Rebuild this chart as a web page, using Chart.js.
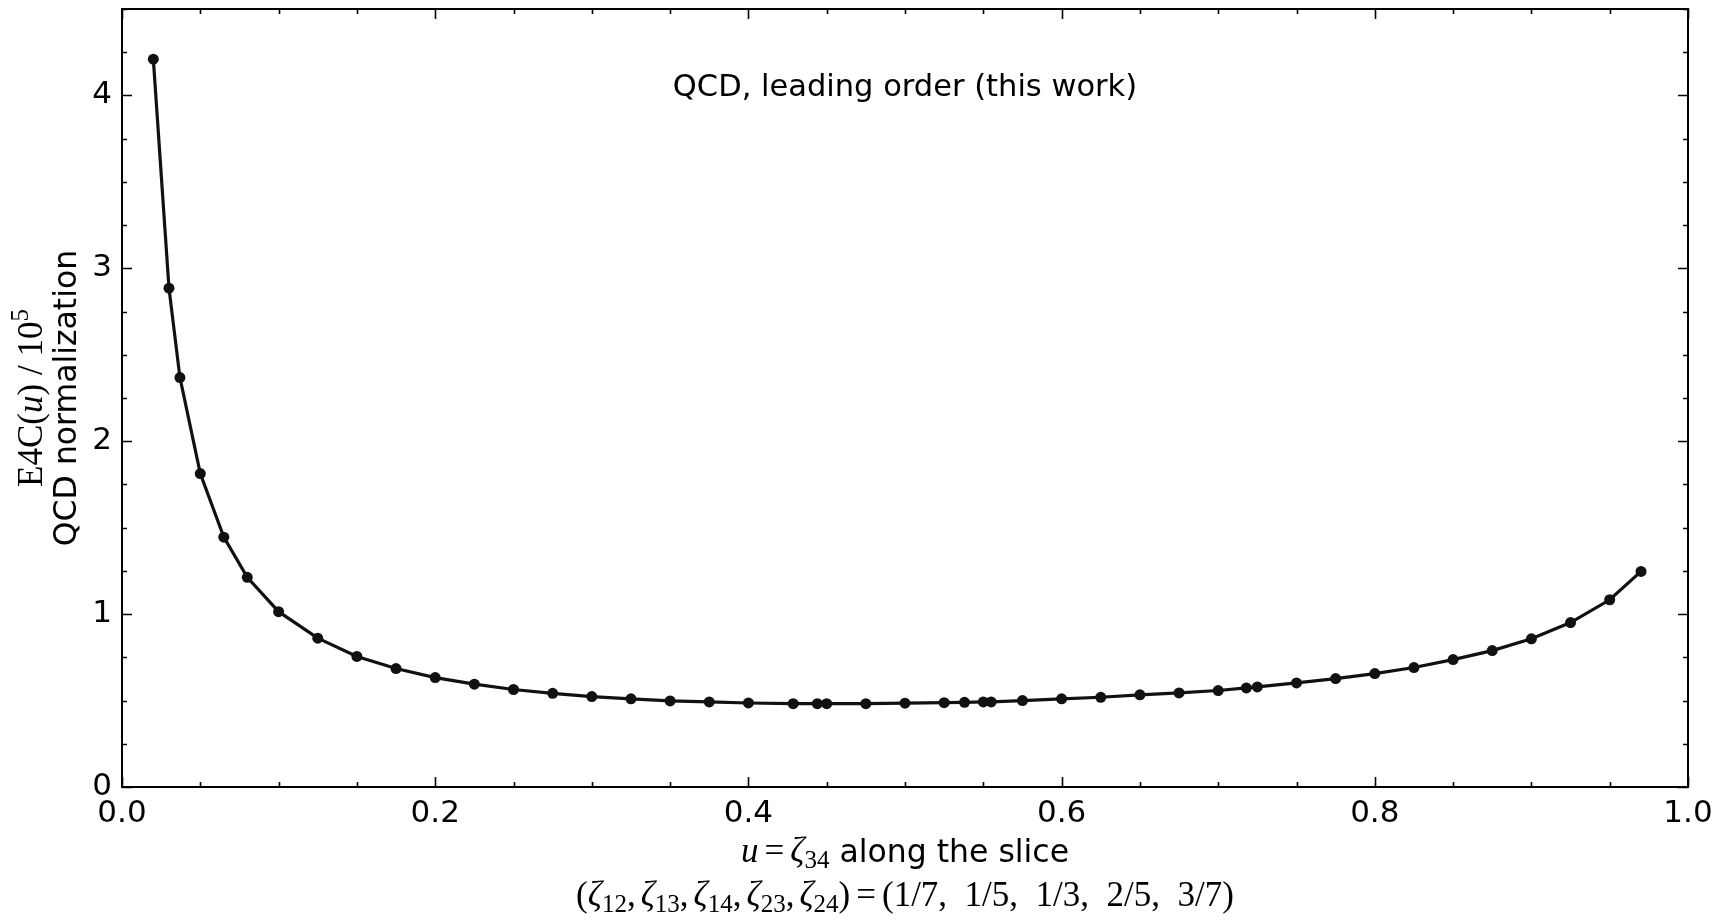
<!DOCTYPE html>
<html>
<head>
<meta charset="utf-8">
<title>E4C slice</title>
<script src="https://cdn.jsdelivr.net/npm/chart.js@4.4.1/dist/chart.umd.min.js"></script>
<style>
  html, body { margin: 0; padding: 0; background: #fff; }
  #wrap { width: 1720px; height: 920px; position: relative; }
</style>
</head>
<body>
<div id="wrap"><canvas id="chart"></canvas></div>
<script>
  // u = zeta_34 sample points along the slice, and E4C(u) / 10^5
  const uValues = [
    0.02, 0.03, 0.037, 0.05, 0.065, 0.08, 0.1,
    0.125, 0.15, 0.175, 0.2, 0.225, 0.25, 0.275, 0.3, 0.325, 0.35, 0.375, 0.4,
    0.4286, 0.444, 0.45, 0.475, 0.5, 0.525, 0.538, 0.55, 0.555, 0.575, 0.6,
    0.625, 0.65, 0.675, 0.7, 0.718, 0.725, 0.75,
    0.775, 0.8, 0.825, 0.85, 0.875, 0.9, 0.925, 0.95, 0.97,
  ];
  const e4cValues = [
    4.21, 2.885, 2.368, 1.813, 1.445, 1.213, 1.014,
    0.861, 0.755, 0.685, 0.633, 0.595, 0.564, 0.542, 0.523, 0.510, 0.498, 0.492, 0.486,
    0.482, 0.482, 0.482, 0.482, 0.485, 0.488, 0.490, 0.492, 0.492, 0.500, 0.510,
    0.519, 0.533, 0.544, 0.558, 0.573, 0.579, 0.602,
    0.627, 0.656, 0.691, 0.737, 0.789, 0.857, 0.951, 1.083, 1.247,
  ];

  // axis ticks
  const xMajorTicks = [0, 0.2, 0.4, 0.6, 0.8, 1.0];
  const xMinorStep = 0.05;
  const yMajorTicks = [0, 1, 2, 3, 4];
  const yMinorStep = 0.25;

  const titleText = 'QCD, leading order (this work)';
  const SANS = '"DejaVu Sans", sans-serif';
  const SERIF = '"Liberation Serif", "DejaVu Serif", serif';

  /**
   * Draw a run of text pieces (different fonts / sub- and superscripts) centred on x.
   * A piece with `sp` is just a horizontal gap of that many pixels.
   */
  function drawRich(ctx, parts, x, y) {
    let total = 0;
    parts.forEach((p) => {
      if (p.sp) {
        p.w = p.sp;
      } else {
        ctx.font = p.font;
        p.w = ctx.measureText(p.t).width;
      }
      total += p.w;
    });
    let cx = x - total / 2;
    ctx.textAlign = 'left';
    ctx.textBaseline = 'alphabetic';
    parts.forEach((p) => {
      if (!p.sp) {
        ctx.font = p.font;
        ctx.fillText(p.t, cx, y + (p.dy || 0));
      }
      cx += p.w;
    });
  }

  const mi = `italic 35px ${SERIF}`;
  const mr = `35px ${SERIF}`;
  const ms = `25px ${SERIF}`;
  const tx = `31.5px ${SANS}`;

  function zeta(sub) {
    return [{ t: 'ζ', font: mi }, { t: sub, font: ms, dy: 6 }];
  }
  const comma = [{ t: ',', font: mr }, { sp: 5 }];
  const eq = [{ sp: 6 }, { t: '=', font: mr }, { sp: 6 }];

  const xLabelLine1 = [
    { t: 'u', font: mi }, ...eq, ...zeta('34'), { t: ' along the slice', font: tx },
  ];
  const xLabelLine2 = [
    { t: '(', font: mr }, ...zeta('12'), ...comma, ...zeta('13'), ...comma,
    ...zeta('14'), ...comma, ...zeta('23'), ...comma, ...zeta('24'),
    { t: ')', font: mr }, ...eq, { t: '(1/7,  1/5,  1/3,  2/5,  3/7)', font: mr },
  ];
  const yLabelLine1 = [
    { t: 'E4C(', font: mr }, { t: 'u', font: mi }, { t: ') / 10', font: mr }, { t: '5', font: ms, dy: -14 },
  ];
  const yLabelLine2 = [{ t: 'QCD normalization', font: tx }];

  const framePlugin = {
    id: 'frameTicks',
    afterDraw(chart) {
      const { ctx, chartArea: a, scales } = chart;
      const xs = scales.x;
      const ys = scales.y;
      ctx.save();
      ctx.strokeStyle = '#000';
      ctx.fillStyle = '#000';

      // inward ticks on all four sides
      ctx.lineWidth = 1.6;
      ctx.beginPath();
      for (let v = 0; v <= 1.0001; v += xMinorStep) {
        const px = Math.round(xs.getPixelForValue(v)) + 0.5;
        const major = xMajorTicks.some((m) => Math.abs(m - v) < 1e-6);
        const len = major ? 10 : 5;
        ctx.moveTo(px, a.bottom); ctx.lineTo(px, a.bottom - len);
        ctx.moveTo(px, a.top); ctx.lineTo(px, a.top + len);
      }
      for (let v = 0; v <= 4.5001; v += yMinorStep) {
        const py = Math.round(ys.getPixelForValue(v)) + 0.5;
        const major = yMajorTicks.some((m) => Math.abs(m - v) < 1e-6);
        const len = major ? 10 : 5;
        ctx.moveTo(a.left, py); ctx.lineTo(a.left + len, py);
        ctx.moveTo(a.right, py); ctx.lineTo(a.right - len, py);
      }
      ctx.stroke();

      // frame
      ctx.lineWidth = 2;
      ctx.strokeRect(a.left, a.top, a.right - a.left, a.bottom - a.top);

      // in-plot title
      ctx.font = `30.5px ${SANS}`;
      ctx.textAlign = 'center';
      ctx.textBaseline = 'alphabetic';
      ctx.fillText(titleText, (a.left + a.right) / 2, 96);

      // x axis label, two lines
      const cx = (a.left + a.right) / 2;
      drawRich(ctx, xLabelLine1, cx, 862);
      drawRich(ctx, xLabelLine2, cx, 906);

      // y axis label, two rotated lines
      const cy = (a.top + a.bottom) / 2;
      ctx.translate(0, cy);
      ctx.rotate(-Math.PI / 2);
      drawRich(ctx, yLabelLine1, 0, 42);
      drawRich(ctx, yLabelLine2, 0, 76);
      ctx.restore();
    },
  };

  const points = uValues.map((u, i) => ({ x: u, y: e4cValues[i] }));

  new Chart(document.getElementById('chart'), {
    type: 'line',
    data: {
      datasets: [{
        data: points,
        borderColor: '#111',
        backgroundColor: '#111',
        borderWidth: 3.2,
        tension: 0,
        pointRadius: 5.5,
        pointBorderWidth: 0,
        pointBackgroundColor: '#111',
        fill: false,
      }],
    },
    options: {
      responsive: true,
      maintainAspectRatio: false,
      animation: false,
      layout: { padding: { top: 9, right: 32, left: 0, bottom: 0 } },
      plugins: { legend: { display: false }, tooltip: { enabled: false } },
      scales: {
        x: {
          type: 'linear',
          min: 0,
          max: 1,
          grid: { display: false, drawTicks: false },
          border: { display: false },
          afterBuildTicks: (s) => { s.ticks = xMajorTicks.map((v) => ({ value: v })); },
          afterFit: (s) => { s.height = 133; s.paddingLeft = 0; s.paddingRight = 0; },
          ticks: {
            maxRotation: 0,
            autoSkip: false,
            padding: 8,
            color: '#000',
            font: { family: SANS, size: 31 },
            callback: (v) => Number(v).toFixed(1),
          },
        },
        y: {
          type: 'linear',
          min: 0,
          max: 4.5,
          grid: { display: false, drawTicks: false },
          border: { display: false },
          afterBuildTicks: (s) => { s.ticks = yMajorTicks.map((v) => ({ value: v })); },
          afterFit: (s) => { s.width = 122; s.paddingTop = 0; s.paddingBottom = 0; },
          ticks: {
            padding: 10,
            color: '#000',
            font: { family: SANS, size: 31 },
            callback: (v) => String(v),
          },
        },
      },
    },
    plugins: [framePlugin],
  });
</script>
</body>
</html>
